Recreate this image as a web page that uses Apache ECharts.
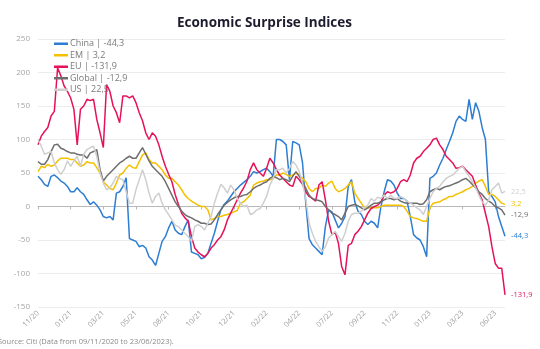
<!DOCTYPE html>
<html>
<head>
<meta charset="utf-8">
<script src="https://cdn.jsdelivr.net/npm/echarts@6/dist/echarts.min.js"></script>
<style>
  html, body { margin: 0; padding: 0; background: #ffffff; }
  #chart { width: 540px; height: 349px; }
</style>
</head>
<body>
<div id="chart"></div>
<script>
// Citi Economic Surprise Indices, sampled roughly weekly, 09/11/2020 to 23/06/2023
const seriesNames = ['China', 'EM', 'EU', 'Global', 'US'];
const seriesColors = ['#2d7dd2', '#f5c000', '#e5125a', '#6e6e6e', '#cfcfcf'];

const tickLabels = ['11/20', '01/21', '03/21', '05/21', '08/21', '10/21', '12/21',
  '02/22', '04/22', '07/22', '09/22', '11/22', '01/23', '03/23', '06/23'];

const china = [
  45, 40, 33, 30, 45, 47, 43, 38, 35, 30,
  22, 22, 28, 22, 18, 10, 3, 7, 2, -5,
  -15, -17, -15, -20, 20, 22, 30, 43, -48, -50,
  -52, -60, -58, -62, -75, -80, -88, -70, -52, -45,
  -32, -22, -35, -40, -42, -30, -20, -68, -70, -72,
  -78, -76, -70, -55, -40, -22, -5, 3, 8, 15,
  22, 27, 32, 36, 40, 45, 52, 50, 52, 55,
  57, 52, 45, 100, 100, 97, 92, 40, 97, 95,
  92, 65, 5, -48, -57, -62, -67, -72, -30, -5,
  -8, -20, -32, -25, -15, 30, 40, 7, -7, -12,
  -22, -27, -22, -25, -32, 0, 22, 40, 38, 32,
  20, 12, 12, 8, -15, -42, -47, -50, -60, -75,
  42, 45, 50, 62, 72, 85, 97, 110, 127, 135,
  130, 127, 160, 130, 155, 142, 118, 100, 22, 15,
  7, -15, -30, -44.3
];

const em = [
  52, 60, 58, 63, 60, 62, 68, 72, 72, 72,
  70, 70, 65, 60, 62, 67, 65, 65, 58, 50,
  37, 32, 27, 25, 35, 47, 50, 57, 62, 58,
  57, 67, 77, 80, 70, 65, 65, 60, 55, 47,
  42, 42, 37, 32, 25, 17, 12, 8, 5, 2,
  0, 0, -5, -20, -18, -15, -15, -13, -12, -10,
  -8, -6, 5, 7, 12, 17, 32, 35, 37, 38,
  40, 40, 42, 47, 47, 50, 48, 45, 47, 50,
  47, 42, 37, 27, 22, 27, 27, 32, 30, 35,
  38, 27, 22, 24, 27, 32, 37, 20, 12, 5,
  -2, -2, -2, -2, -2, 0, 2, 2, 2, 2,
  2, 2, 0, -7, -15, -17, -18, -20, -22, -22,
  -2, 5, 6, 7, 10, 12, 15, 15, 18, 20,
  22, 25, 27, 30, 35, 38, 40, 30, 18, 18,
  15, 10, 5, 3.2
];

const eu = [
  92, 105, 112, 118, 135, 142, 207, 195, 180, 172,
  162, 145, 92, 145, 150, 160, 158, 160, 130, 110,
  88, 182, 172, 150, 140, 125, 165, 165, 162, 165,
  155, 140, 128, 110, 100, 110, 105, 92, 75, 60,
  48, 37, 18, 3, -10, -17, -22, -45, -62, -68,
  -72, -75, -70, -62, -57, -50, -45, -35, -20, -10,
  0, 10, 20, 28, 38, 55, 65, 55, 50, 45,
  57, 72, 65, 55, 47, 42, 37, 32, 30, 45,
  40, 33, 22, 15, 12, 8, 32, 37, 10, -22,
  -42, -38, -55, -90, -102, -58, -55, -42, -37, -30,
  -20, -10, -3, 0, 2, 7, 17, 22, 20, 22,
  27, 37, 40, 37, 47, 65, 72, 75, 82, 87,
  92, 100, 102, 92, 85, 75, 70, 65, 57, 58,
  60, 55, 50, 45, 32, 20, 10, -10, -30, -60,
  -85, -92, -92, -131.9
];

const globalIdx = [
  67, 63, 63, 70, 82, 92, 93, 87, 85, 82,
  80, 80, 78, 77, 77, 72, 80, 82, 85, 55,
  38, 45, 50, 55, 60, 65, 68, 72, 75, 72,
  72, 80, 88, 78, 68, 60, 55, 50, 45, 37,
  27, 17, 7, 0, -7, -12, -15, -17, -20, -22,
  -25, -25, -27, -26, -20, -12, -5, 2, 6, 10,
  13, 15, 15, 17, 18, 22, 27, 30, 32, 35,
  37, 42, 45, 43, 40, 42, 40, 37, 45, 52,
  45, 37, 27, 17, 12, 10, 9, 7, 0, -5,
  -10, -12, -15, -20, -10, 0, 2, 3, 1, -2,
  -5, -2, 2, 5, 5, 7, 10, 12, 12, 10,
  12, 8, 6, 5, 5, 5, 5, 3, 4, 10,
  22, 25, 27, 25, 28, 30, 31, 33, 35, 37,
  40, 42, 38, 33, 28, 22, 18, 12, 8, 5,
  0, -2, -5, -12.9
];

const us = [
  100, 90, 78, 80, 82, 65, 55, 48, 55, 68,
  60, 68, 75, 60, 78, 85, 88, 90, 75, 50,
  35, 25, 28, 35, 45, 42, 40, 22, 5, 5,
  25, 40, 55, 40, 20, 5, 15, 20, 5, -5,
  -12, -20, -28, -30, -35, -40, -45, -52, -30, -27,
  -30, -35, -25, -15, 5, 20, 33, 28, 20, 32,
  25, 12, 5, 0, 2, -12, -10, -5, -3, 5,
  15, 32, 42, 55, 55, 57, 50, 57, 67, 62,
  52, 35, 12, -25, -40, -52, -60, -67, -60, -47,
  -42, -37, -45, -52, -40, -22, -12, -10, -10, -7,
  -2, 2, 12, 8, 14, 12, 17, 12, 17, 12,
  12, 15, 12, 8, 5, 2, -2, -5, -12, 0,
  12, 22, 27, 30, 37, 42, 45, 47, 52, 57,
  60, 52, 45, 37, 28, 17, 7, 2, 10, 25,
  30, 35, 20, 22.5
];

const seriesValues = [china, em, eu, globalIdx, us];

// Category axis: one date per sample, spread evenly over the data window
const startTime = Date.UTC(2020, 10, 9);
const endTime = Date.UTC(2023, 5, 23);
const pad = n => String(n).padStart(2, '0');
const categories = china.map((_, i) => {
  const d = new Date(startTime + (endTime - startTime) * i / (china.length - 1));
  return pad(d.getUTCDate()) + '/' + pad(d.getUTCMonth() + 1) + '/' + d.getUTCFullYear();
});

const LABEL_STEP = 10;
const showTick = idx => idx % LABEL_STEP === 0;
const fmt = v => v.toFixed(1).replace('.', ',');
const lastValue = {};
seriesNames.forEach((n, k) => { lastValue[n] = seriesValues[k][seriesValues[k].length - 1]; });

const chart = echarts.init(document.getElementById('chart'), null, { renderer: 'canvas' });

chart.setOption({
  animation: false,
  backgroundColor: '#ffffff',
  title: {
    text: 'Economic Surprise Indices',
    left: 172,
    top: 11,
    textStyle: {
      fontFamily: 'Open Sans',
      fontWeight: 700,
      fontSize: 13.5,
      color: '#1c1c2e'
    }
  },
  legend: {
    orient: 'vertical',
    left: 54,
    top: 38,
    padding: 0,
    itemGap: 0,
    itemWidth: 14,
    itemHeight: 2.5,
    icon: 'rect',
    data: seriesNames,
    formatter: name => name + ' | ' + fmt(lastValue[name]),
    textStyle: {
      fontFamily: 'Open Sans',
      fontSize: 9,
      lineHeight: 11.5,
      color: '#7a7a7a',
      padding: [0, 0, 0, -3]
    }
  },
  grid: { left: 38, right: 35, top: 39, bottom: 42, containLabel: false },
  xAxis: [
    {
      type: 'category',
      data: categories,
      boundaryGap: false,
      axisLine: { show: false, onZero: false },
      axisTick: { show: false },
      splitLine: { show: false },
      axisLabel: {
        interval: (idx) => showTick(idx),
        formatter: (val, idx) => tickLabels[idx / LABEL_STEP],
        rotate: 45,
        margin: 5,
        fontFamily: 'Open Sans',
        fontSize: 7.5,
        color: '#a0a0a0'
      }
    },
    {
      type: 'category',
      data: categories,
      position: 'top',
      boundaryGap: false,
      axisLine: { show: true, onZero: true, lineStyle: { color: '#b8b8b8', width: 1 } },
      axisTick: { show: true, inside: true, length: 3, interval: (idx) => showTick(idx), lineStyle: { color: '#b8b8b8' } },
      axisLabel: { show: false },
      splitLine: { show: false }
    }
  ],
  yAxis: {
    type: 'value',
    min: -150,
    max: 250,
    interval: 50,
    axisLine: { show: false },
    axisTick: { show: false },
    axisLabel: {
      margin: 8,
      fontFamily: 'Open Sans',
      fontSize: 8,
      color: '#a5a5a5'
    },
    splitLine: { lineStyle: { color: '#ececec', width: 1 } }
  },
  series: seriesNames.map((name, k) => ({
    name: name,
    type: 'line',
    xAxisIndex: 0,
    data: seriesValues[k],
    showSymbol: false,
    symbol: 'none',
    color: seriesColors[k],
    lineStyle: { width: 1.5, color: seriesColors[k] },
    endLabel: {
      show: true,
      distance: 6,
      formatter: p => fmt(p.value),
      color: seriesColors[k],
      fontFamily: 'Open Sans',
      fontSize: 7.5
    }
  })),
  graphic: [
    {
      type: 'text',
      left: -2,
      top: 338,
      style: {
        text: 'Source: Citi (Data from 09/11/2020 to 23/06/2023).',
        font: '7.5px "Open Sans"',
        fill: '#8a8a8a'
      }
    }
  ]
});
</script>
</body>
</html>
